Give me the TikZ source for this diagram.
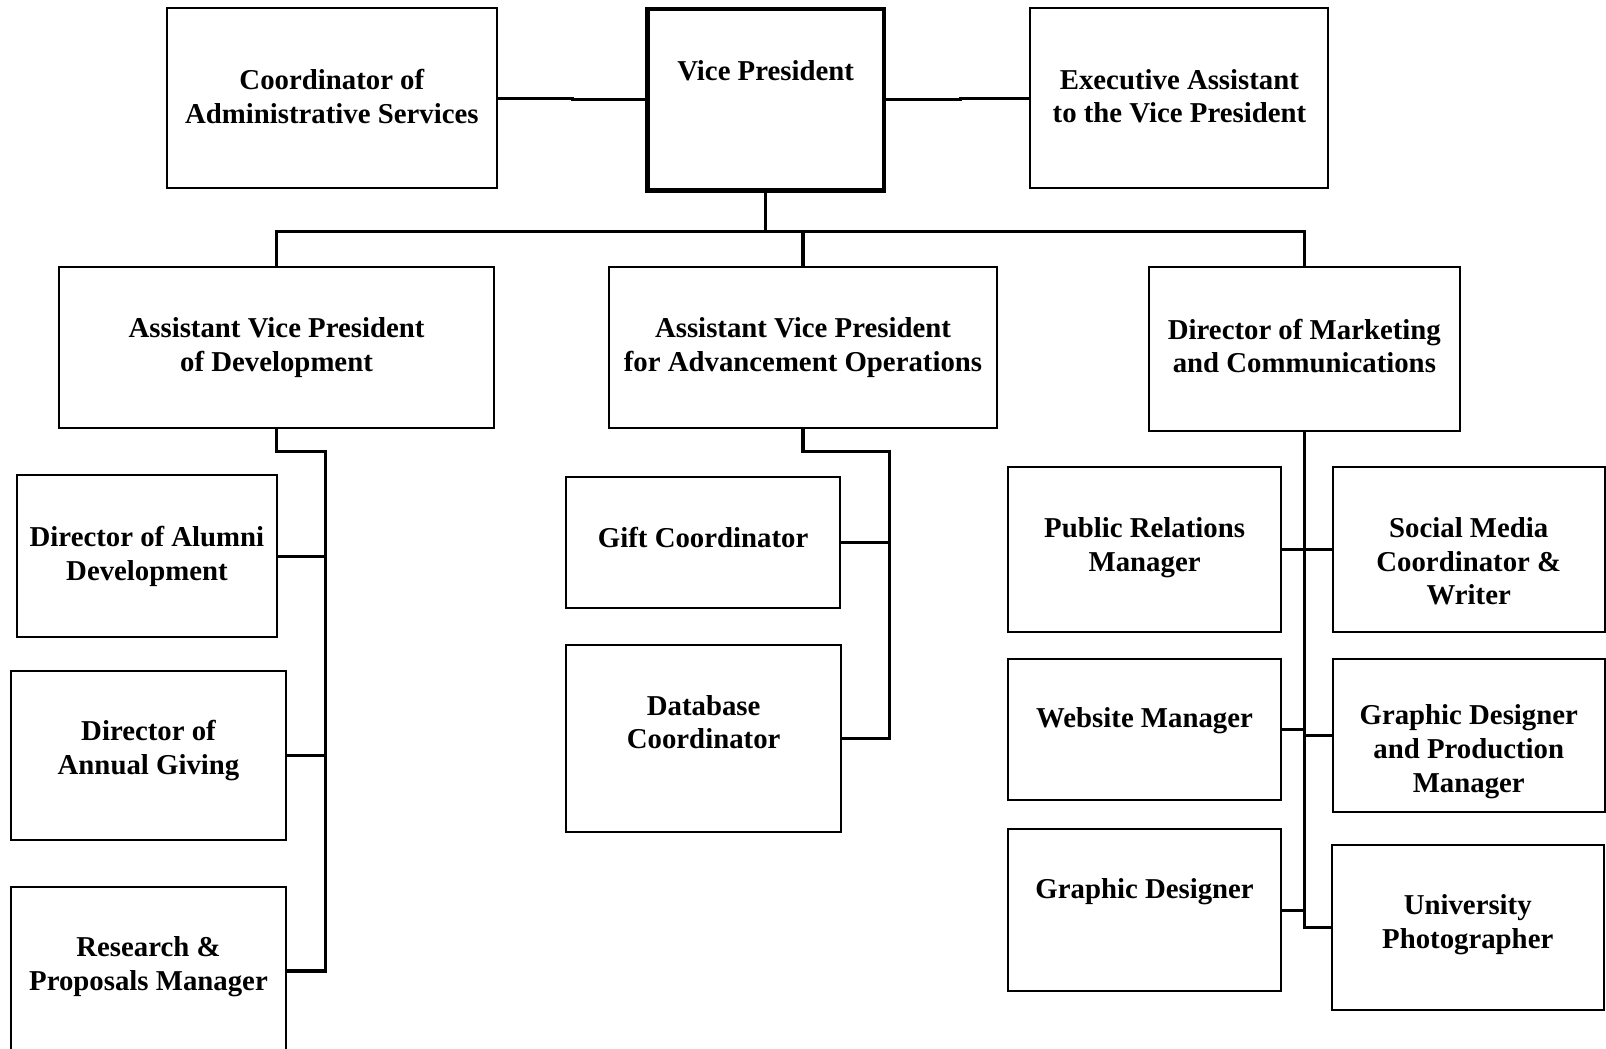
\documentclass[tikz,border=0pt]{standalone}
\usepackage{fontspec}
\setmainfont{Liberation Serif}
\usepackage{tikz}

\tikzset{
    box/.style={draw, rectangle, line width=1.1pt, align=center, inner sep=0pt,
        font=\bfseries\fontsize{16}{18.7}\selectfont},
    lbl/.style={align=center, font=\bfseries\fontsize{16}{18.7}\selectfont},
    conn/.style={draw, line width=1.7pt}
}

\begin{document}
\begin{tikzpicture}[x=0.02cm, y=-0.02cm]
    \useasboundingbox (0,0) rectangle (1568,1024);
    \clip (0,0) rectangle (1568,1024);

    % Top row
    \node [box, minimum width=6.44cm, minimum height=3.52cm,
        label={[lbl, yshift=0.04cm]center:Coordinator of\\Administrative Services}] (coord) at (324,96) {};
    \node [box, line width=2.4pt, minimum width=4.62cm, minimum height=3.54cm,
        label={[lbl, yshift=0.57cm]center:Vice President}] (vp) at (747.5,97.5) {};
    \node [box, minimum width=5.82cm, minimum height=3.52cm,
        label={[lbl, yshift=0.04cm]center:Executive Assistant\\to the Vice President}] (exec) at (1151.5,96) {};

    % Second row
    \node [box, minimum width=8.48cm, minimum height=3.14cm] (avpdev) at (270,339.5) {Assistant Vice President\\of Development};
    \node [box, minimum width=7.56cm, minimum height=3.14cm] (avpops) at (784,339.5) {Assistant Vice President\\for Advancement Operations};
    \node [box, minimum width=6.06cm, minimum height=3.2cm,
        label={[lbl, yshift=0.06cm]center:Director of Marketing\\and Communications}] (mkt) at (1273.5,341) {};

    % Development staff
    \node [box, minimum width=5.06cm, minimum height=3.16cm] (alumni) at (143.5,543) {Director of Alumni\\Development};
    \node [box, minimum width=5.36cm, minimum height=3.3cm,
        label={[lbl, yshift=0.09cm]center:Director of\\Annual Giving}] (annual) at (145,737.5) {};
    \node [box, minimum width=5.36cm, minimum height=3.28cm,
        label={[lbl, yshift=0.08cm]center:Research \&\\Proposals Manager}] (research) at (145,948) {};

    % Operations staff
    \node [box, minimum width=5.34cm, minimum height=2.56cm,
        label={[lbl, yshift=0.1cm]center:Gift Coordinator}] (gift) at (686.5,530) {};
    \node [box, minimum width=5.36cm, minimum height=3.64cm,
        label={[lbl, yshift=0.32cm]center:Database\\Coordinator}] (dbcoord) at (687,721) {};

    % Marketing staff
    \node [box, minimum width=5.34cm, minimum height=3.22cm,
        label={[lbl, yshift=0.03cm]center:Public Relations\\Manager}] (pr) at (1117.5,536.5) {};
    \node [box, minimum width=5.32cm, minimum height=3.22cm,
        label={[lbl, yshift=-0.23cm]center:Social Media\\Coordinator \&\\Writer}] (social) at (1434,536.5) {};
    \node [box, minimum width=5.34cm, minimum height=2.76cm,
        label={[lbl, yshift=0.17cm]center:Website Manager}] (web) at (1117.5,712) {};
    \node [box, minimum width=5.32cm, minimum height=3.0cm,
        label={[lbl, yshift=-0.32cm]center:Graphic Designer\\and Production\\Manager}] (gprod) at (1434,718) {};
    \node [box, minimum width=5.34cm, minimum height=3.18cm,
        label={[lbl, yshift=0.36cm]center:Graphic Designer}] (gdes) at (1117.5,888.5) {};
    \node [box, minimum width=5.32cm, minimum height=3.22cm,
        label={[lbl, yshift=0.05cm]center:University\\Photographer}] (photo) at (1433,905.5) {};

    % Connectors
    \draw [conn] (coord.east) -- ++(73,0) |- (vp.west);
    \draw [conn] (vp.east) -- ++(73,0) |- (exec.west);
    \draw [conn] (vp.south) -- ++(0,38) coordinate (bus);
    \draw [conn] (avpdev.north) |- (bus) -| (mkt.north);
    \draw [conn] (bus) -| (avpops.north);

    \coordinate (devtrunk) at (318,441);
    \draw [conn] (avpdev.south) |- (devtrunk) |- (research.east);
    \draw [conn] (alumni.east) -- (alumni.east -| devtrunk);
    \draw [conn] (annual.east) -- (annual.east -| devtrunk);

    \coordinate (opstrunk) at (868,441);
    \draw [conn] (avpops.south) |- (opstrunk) |- (dbcoord.east);
    \draw [conn] (gift.east) -- (gift.east -| opstrunk);

    \draw [conn] (mkt.south) |- (photo.west);
    \draw [conn] (pr.east) -- (social.west);
    \draw [conn] (web.east) -- (web.east -| mkt.south);
    \draw [conn] (gprod.west) -- (gprod.west -| mkt.south);
    \draw [conn] (gdes.east) -- (gdes.east -| mkt.south);
\end{tikzpicture}
\end{document}
